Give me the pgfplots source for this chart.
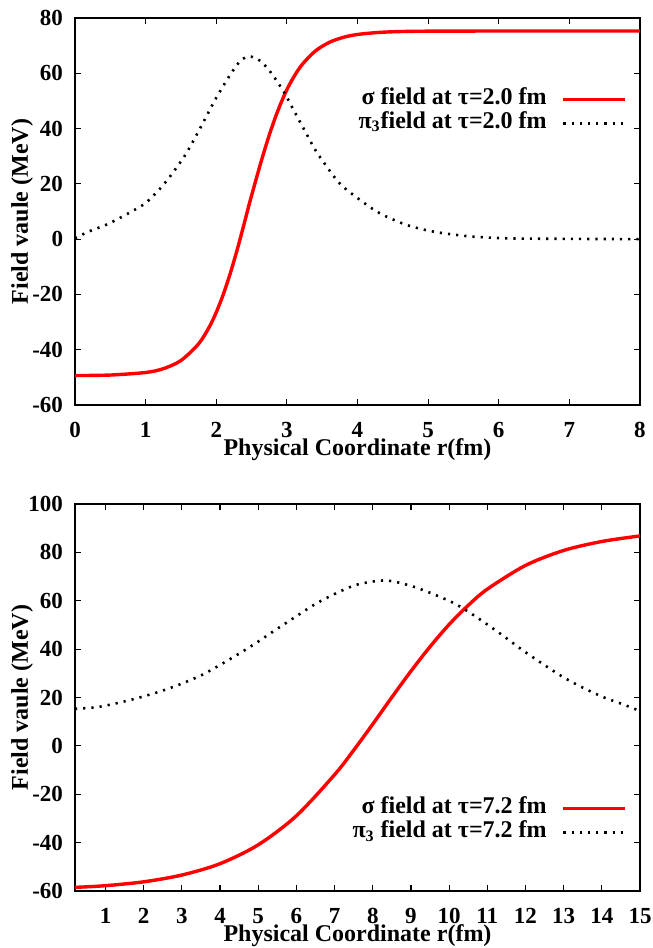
\documentclass[border=0pt]{standalone}
\usepackage{fontspec}
\setmainfont{Liberation Serif}
\usepackage{pgfplots}
\pgfplotsset{compat=1.18}
\begin{document}
\begin{tikzpicture}
\useasboundingbox (-37.5pt,-28.5pt) rectangle (289pt,445.5pt);
\pgfplotsset{
  myaxis/.style={
    scale only axis, width=282.5pt, height=193.5pt,
    axis line style={line width=0.6pt},
    every tick/.style={black, line width=0.6pt},
    major tick length=3pt,
    tick align=inside,
    /pgf/number format/assume math mode=true,
    tick label style={font=\fontsize{11.5}{12}\selectfont\bfseries, inner sep=1pt},
    xticklabel style={yshift=-7.3pt},
    yticklabel style={xshift=-4.8pt},
    xlabel style={at={(axis description cs:0.5,0)}, anchor=center, yshift=-22.5pt, inner sep=0.5pt, font=\fontsize{12}{12}\selectfont\bfseries},
    ylabel style={at={(axis description cs:-0.0938,0.5)}, anchor=center, inner sep=0.5pt, font=\fontsize{12}{12}\selectfont\bfseries},
    xlabel={Physical Coordinate r(fm)},
    ylabel={Field vaule (MeV)},
    legend plot pos=right,
    legend cell align=right,
    legend style={draw=none, fill=none, inner sep=0pt, outer sep=0pt, column sep=7.5pt, row sep=0pt,
      font=\fontsize{12}{12}\selectfont\bfseries, at={(rel axis cs:1,1)}, anchor=north east,
      nodes={inner sep=0pt, text height=8.5pt, text depth=3.5pt}},
    legend image code/.code={\draw[##1] (0pt,0pt) -- (30.8pt,0pt);},
  },
  sig/.style={red, line width=1.7pt, smooth},
  pis/.style={black, line width=1.3pt, dash pattern=on 1.1pt off 3pt, smooth},
}
\begin{axis}[myaxis, at={(0pt,243pt)}, anchor=south west,
  xmin=0, xmax=8, ymin=-60, ymax=80,
  xtick={0,1,...,8}, ytick={-60,-40,...,80},
  legend style={xshift=-6.65pt, yshift=-34.7pt}]
\addplot[sig] coordinates {(0,-49.35)(0.5,-49.16)(1.0,-48.24)(1.25,-46.87)(1.5,-43.91)(1.75,-37.88)(1.9,-31.84)(2.0,-26.5)(2.1,-19.96)(2.2,-12.26)(2.3,-3.48)(2.4,6.05)(2.47,12.95)(2.55,20.33)(2.65,29.32)(2.75,37.6)(2.85,44.95)(2.95,51.27)(3.05,56.55)(3.2,62.64)(3.4,67.98)(3.6,71.18)(3.8,73.0)(4.0,74.04)(4.3,74.77)(4.6,75.09)(5.0,75.23)(6,75.29)(7,75.3)(8,75.3)};
\addlegendentry{σ field at τ=2.0 fm}
\addplot[pis] coordinates {(0,0.3)(0.19,2.7)(0.45,5.3)(0.71,8.7)(0.97,12.5)(1.06,14.5)(1.15,16.8)(1.25,19.6)(1.37,23.5)(1.55,30.0)(1.69,36.2)(1.84,43.4)(1.98,50.2)(2.12,56.3)(2.24,61.1)(2.35,64.7)(2.47,66.1)(2.61,64.7)(2.73,61.7)(2.85,57.5)(2.97,52.7)(3.11,46)(3.25,39.4)(3.39,32.8)(3.51,28.2)(3.75,20.1)(4.04,14.1)(4.32,9.3)(4.70,5.1)(5.08,2.7)(5.55,1.1)(6.11,0.3)(7,0.1)(8,0)};
\addlegendentry{π\textsubscript{3}field at τ=2.0 fm}
\end{axis}
\begin{axis}[myaxis, at={(0pt,0pt)}, anchor=south west,
  xmin=0.2, xmax=15, ymin=-60, ymax=100,
  xtick={1,2,...,15}, ytick={-60,-40,...,100},
  legend style={xshift=-6.65pt, yshift=-146.2pt}]
\addplot[sig] coordinates {(0.2,-58.5)(1,-57.8)(2,-56.2)(3,-53.4)(4,-48.7)(5,-40.9)(6,-28.9)(7,-11.9)(7.5,-1.8)(8,9.0)(8.5,20.1)(9,30.9)(9.5,41.0)(10,50.2)(10.5,58.1)(11,64.8)(12,74.6)(13,80.8)(14,84.5)(15,86.8)};
\addlegendentry{σ field at τ=7.2 fm}
\addplot[pis] coordinates {(0.2,15.3)(0.81,16.1)(1.42,18.1)(1.94,20.2)(2.47,22.7)(2.99,25.7)(3.51,29.2)(3.95,33.0)(4.38,37.0)(4.91,42.2)(5.43,47.7)(5.96,53.2)(6.48,58.5)(7.0,62.8)(7.57,66.6)(8.18,68.3)(8.53,68.0)(9.05,65.9)(9.58,62.8)(10.1,59.2)(10.45,56.0)(10.88,51.5)(11.41,45.6)(11.93,39.5)(12.46,33.8)(12.98,28.5)(13.5,24.1)(14.03,20.2)(14.55,17.2)(15,14.4)};
\addlegendentry{π\textsubscript{3} field at τ=7.2 fm}
\end{axis}
\end{tikzpicture}
\end{document}
